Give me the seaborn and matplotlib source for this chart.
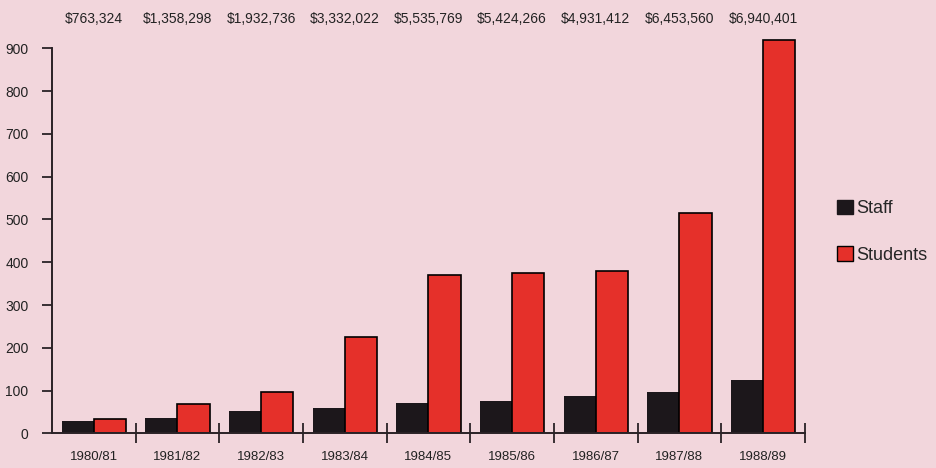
import matplotlib
matplotlib.use("Agg")
import matplotlib.pyplot as plt
import seaborn as sns
import pandas as pd
from matplotlib.patches import Patch

years = ["1980/81", "1981/82", "1982/83", "1983/84", "1984/85",
         "1985/86", "1986/87", "1987/88", "1988/89"]
staff = [28, 35, 53, 60, 72, 75, 88, 97, 125]
students = [33, 68, 96, 225, 370, 375, 380, 515, 920]
funding = ["$763,324", "$1,358,298", "$1,932,736", "$3,332,022", "$5,535,769",
           "$5,424,266", "$4,931,412", "$6,453,560", "$6,940,401"]
yticks = [0, 100, 200, 300, 400, 500, 600, 700, 800, 900]

bg = "#f2d6dc"
black = "#1c171b"
red = "#e5302a"

df = pd.DataFrame({
    "Year": years * 2,
    "Count": staff + students,
    "Group": ["Staff"] * len(years) + ["Students"] * len(years),
})

sns.set_theme(style="white")
plt.rcParams["font.family"] = ["Liberation Sans", "DejaVu Sans"]

fig = plt.figure(figsize=(9.37, 4.68), dpi=100, facecolor=bg)
ax = fig.add_axes([0.0555, 0.074, 0.8035, 0.850])
ax.set_facecolor(bg)

sns.barplot(data=df, x="Year", y="Count", hue="Group",
            palette={"Staff": black, "Students": red},
            width=0.77, gap=0, ax=ax, legend=False, saturation=1)

for p in ax.patches:
    fc = p.get_facecolor()
    if fc[0] > 0.5:
        p.set_edgecolor("black")
        p.set_linewidth(1.2)
    else:
        p.set_linewidth(0)

ax.set_xlim(-0.5, 8.5)
ax.set_ylim(0, 930)
ax.set_yticks(yticks)
ax.set_yticklabels([str(v) for v in yticks], fontsize=10, color="#222222")
ax.set_xticks(range(len(years)))
ax.set_xticklabels(years, fontsize=9.5, color="#222222")
ax.set_xticks([i + 0.5 for i in range(len(years))], minor=True)
ax.tick_params(axis="x", which="both", bottom=True)
ax.tick_params(axis="x", which="major", length=0, pad=13)
ax.tick_params(axis="x", which="minor", length=14, direction="inout", width=1.3, color="#2a2226")
ax.tick_params(axis="y", which="major", length=7, width=1.3, direction="out", color="#2a2226", left=True, pad=10)
ax.set_xlabel("")
ax.set_ylabel("")

for s in ["top", "right"]:
    ax.spines[s].set_visible(False)
for s in ["left", "bottom"]:
    ax.spines[s].set_color("#2a2226")
    ax.spines[s].set_linewidth(1.4)
ax.spines["left"].set_bounds(0, 900)

for i, f in enumerate(funding):
    ax.text(i, 968, f, ha="center", va="center", fontsize=10, color="#222222", clip_on=False)

handles = [Patch(facecolor=black, edgecolor=black, label="Staff"),
           Patch(facecolor=red, edgecolor="black", label="Students")]
fig.legend(handles=handles, loc="center left", bbox_to_anchor=(0.886, 0.505),
           frameon=False, fontsize=13, handlelength=0.85, handleheight=0.85,
           handletextpad=0.2, labelspacing=1.6, borderaxespad=0)

fig.savefig("out.png", dpi=100, facecolor=bg)
